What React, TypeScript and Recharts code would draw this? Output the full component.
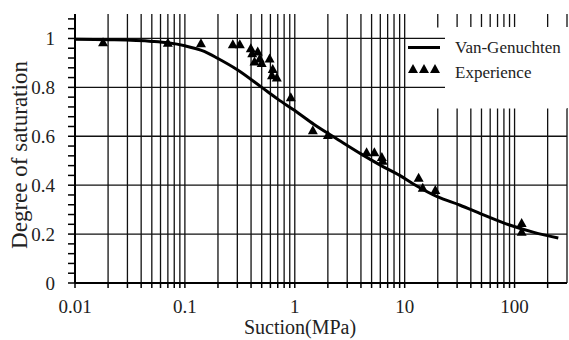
import {
  ComposedChart, Line, Scatter, XAxis, YAxis, CartesianGrid, ReferenceLine, ReferenceArea, Label
} from 'recharts'

// Van-Genuchten curve (suction MPa, degree of saturation)
const vgCurve = [
  { s: 0.01, S: 0.997 }, { s: 0.02, S: 0.995 }, { s: 0.05, S: 0.988 }, { s: 0.07, S: 0.982 },
  { s: 0.1, S: 0.97 }, { s: 0.15, S: 0.947 }, { s: 0.2, S: 0.918 }, { s: 0.3, S: 0.872 },
  { s: 0.5, S: 0.8 }, { s: 0.7, S: 0.752 }, { s: 1, S: 0.705 }, { s: 1.5, S: 0.648 },
  { s: 2.5, S: 0.585 }, { s: 4, S: 0.528 }, { s: 6, S: 0.482 }, { s: 9, S: 0.44 },
  { s: 12, S: 0.405 }, { s: 20, S: 0.352 }, { s: 32, S: 0.318 }, { s: 50, S: 0.282 },
  { s: 90, S: 0.237 }, { s: 150, S: 0.207 }, { s: 250, S: 0.184 },
]

// measured points ("Experience")
const experience = [
  { s: 0.018, S: 0.984 }, { s: 0.07, S: 0.982 }, { s: 0.14, S: 0.98 }, { s: 0.273, S: 0.976 },
  { s: 0.316, S: 0.976 }, { s: 0.398, S: 0.96 }, { s: 0.41, S: 0.94 }, { s: 0.46, S: 0.947 },
  { s: 0.43, S: 0.906 }, { s: 0.48, S: 0.918 }, { s: 0.5, S: 0.9 }, { s: 0.59, S: 0.918 },
  { s: 0.63, S: 0.875 }, { s: 0.62, S: 0.85 }, { s: 0.686, S: 0.84 }, { s: 0.92, S: 0.76 },
  { s: 1.46, S: 0.625 }, { s: 2.0, S: 0.605 }, { s: 4.5, S: 0.535 }, { s: 5.3, S: 0.535 },
  { s: 6.2, S: 0.515 }, { s: 6.3, S: 0.5 }, { s: 13.4, S: 0.43 }, { s: 14.6, S: 0.39 },
  { s: 19, S: 0.38 }, { s: 116, S: 0.245 }, { s: 116, S: 0.21 },
]

const xTicks = [
  0.01, 0.02, 0.03, 0.04, 0.05, 0.06, 0.07, 0.08, 0.09,
  0.1, 0.2, 0.3, 0.4, 0.5, 0.6, 0.7, 0.8, 0.9,
  1, 2, 3, 4, 5, 6, 7, 8, 9,
  10, 20, 30, 40, 50, 60, 70, 80, 90,
  100, 200,
]
const xLabels = [0.01, 0.1, 1, 10, 100]

const yTicks = [
  0, 0.04, 0.08, 0.12, 0.16, 0.2, 0.24, 0.28, 0.32, 0.36, 0.4, 0.44, 0.48, 0.52,
  0.56, 0.6, 0.64, 0.68, 0.72, 0.76, 0.8, 0.84, 0.88, 0.92, 0.96, 1, 1.04, 1.08,
]
const yLabels = [0, 0.2, 0.4, 0.6, 0.8, 1]
const yGrid = [0.2, 0.4, 0.6, 0.8, 1]

const font = '"Liberation Serif", "Times New Roman", serif'
const ink = '#222'

const Triangle = (props: any) => {
  const { cx, cy } = props
  return <polygon points={`${cx},${cy - 5} ${cx - 5},${cy + 4} ${cx + 5},${cy + 4}`} fill="#000" />
}

const fmtX = (v: number) => (xLabels.some(l => Math.abs(l - v) < 1e-9) ? String(v) : '')
const fmtY = (v: number) => (yLabels.some(l => Math.abs(l - v) < 1e-9) ? String(v) : '')

export default function App() {
  return (
    <div style={{ position: 'absolute', left: 0, top: 0, width: 569, height: 340, background: '#fff', fontFamily: font }}>
      <style>{`.chart-wrap svg text, .chart-wrap svg tspan { font-family: ${font} !important; }`}</style>
      <div className="chart-wrap">
        <ComposedChart width={569} height={340} margin={{ top: 14, right: 2, left: 0, bottom: 0 }}>
          <CartesianGrid horizontal={false} stroke="#111" strokeWidth={1.3} />
          <ReferenceArea x1={10.3} x2={300} y1={0.714} y2={1.045} fill="#fff" fillOpacity={1} stroke="none" />
          {yGrid.map(v => (
            <ReferenceLine key={v} y={v} stroke="#111" strokeWidth={1.3} />
          ))}
          <XAxis
            dataKey="s" type="number" scale="log" domain={[0.01, 300]} allowDataOverflow
            ticks={xTicks} interval={0} tickFormatter={fmtX} height={57}
            tick={{ fill: ink, fontSize: 19 }} tickSize={5} tickMargin={12}
            tickLine={{ stroke: '#000', strokeWidth: 1.5 }}
            axisLine={{ stroke: '#000', strokeWidth: 2 }}
          >
            <Label
              content={() => (
                <text x={300} y={334} textAnchor="middle" fontSize={20} fill={ink}>Suction(MPa)</text>
              )}
            />
          </XAxis>
          <XAxis xAxisId="top" orientation="top" type="number" scale="log" domain={[0.01, 300]} allowDataOverflow
            height={0} tick={false} tickLine={false} axisLine={{ stroke: '#000', strokeWidth: 2 }} />
          <YAxis
            type="number" domain={[0, 1.1]} ticks={yTicks} interval={0} tickFormatter={fmtY} width={75}
            tick={{ fill: ink, fontSize: 19 }} tickSize={7} tickMargin={13}
            tickLine={{ stroke: '#000', strokeWidth: 1.5 }}
            axisLine={{ stroke: '#000', strokeWidth: 2 }}
          >
            <Label
              content={() => (
                <text transform="translate(19,155) rotate(-90)" textAnchor="middle" dominantBaseline="central"
                  fontSize={23} fill={ink}>Degree of saturation</text>
              )}
            />
          </YAxis>
          <YAxis yAxisId="right" orientation="right" type="number" domain={[0, 1.1]} width={0}
            tick={false} tickLine={false} axisLine={{ stroke: '#000', strokeWidth: 2 }} />
          <Line data={vgCurve} dataKey="S" type="monotone" stroke="#000" strokeWidth={3} dot={false}
            activeDot={false} isAnimationActive={false} />
          <Scatter data={experience} dataKey="S" shape={Triangle} isAnimationActive={false} />
        </ComposedChart>
      </div>

      {/* legend */}
      <div style={{ position: 'absolute', left: 408, top: 46, width: 32, height: 3, background: '#000' }} />
      <svg style={{ position: 'absolute', left: 406, top: 63 }} width={36} height={12}>
        {[0, 1, 2].map(i => (
          <polygon key={i} points={`${7 + i * 11},1 ${2 + i * 11},10 ${12 + i * 11},10`} fill="#000" />
        ))}
      </svg>
      <div style={{ position: 'absolute', left: 445, top: 27, width: 124, height: 81, background: '#fff' }}>
        <div style={{ position: 'absolute', left: 10, top: 9, fontSize: 17, lineHeight: '24px', color: ink, whiteSpace: 'nowrap' }}>
          Van-Genuchten
        </div>
        <div style={{ position: 'absolute', left: 10, top: 34, fontSize: 17, lineHeight: '24px', color: ink, whiteSpace: 'nowrap' }}>
          Experience
        </div>
      </div>
    </div>
  )
}
